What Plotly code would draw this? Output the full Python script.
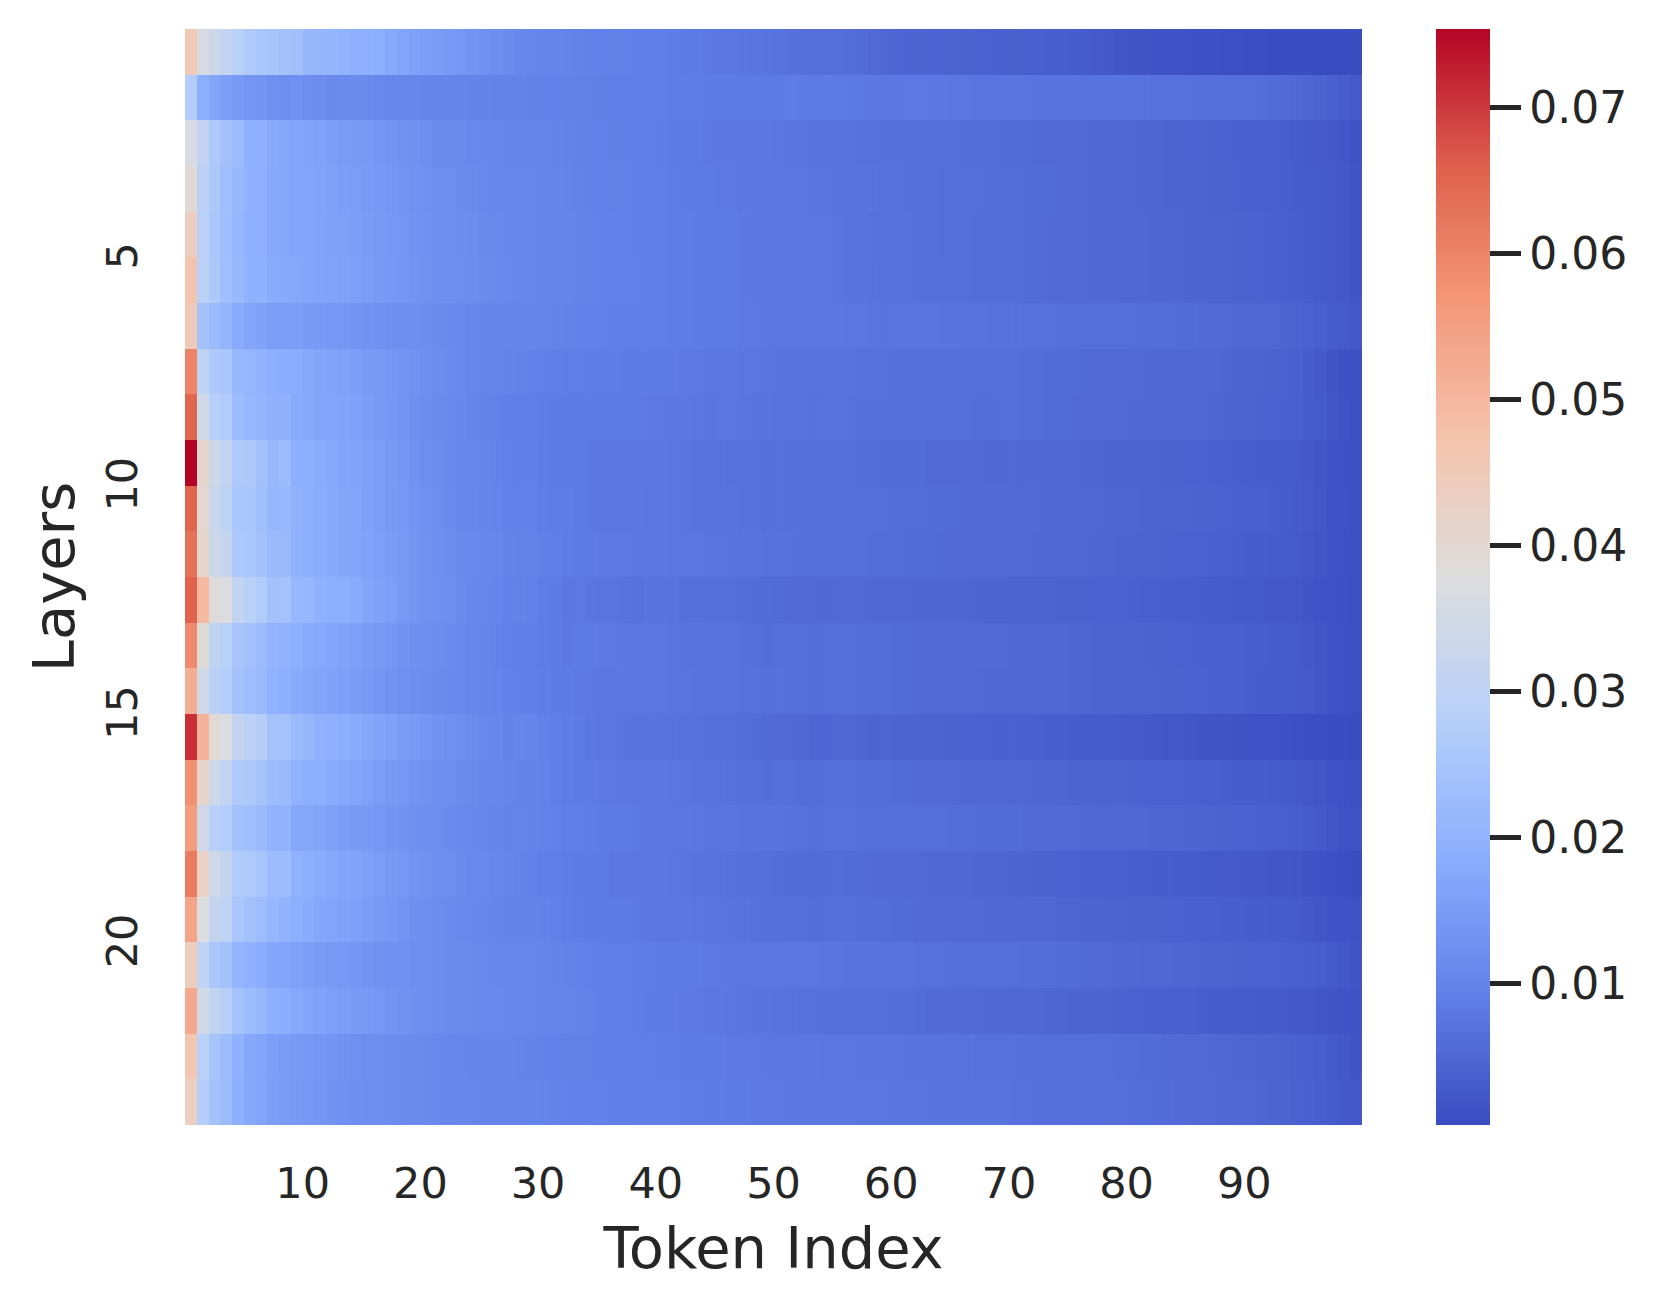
import plotly.graph_objects as go

# Attention values, in units of 0.0001. One list per layer, 100 tokens each.
layer_01 = [453,360,335,310,290,265,255,248,240,238,212,208,204,200,192,192,186,176,168,160,155,150,145,140,135,128,122,116,110,106,104,102,100,98,97,96,95,94,93,92,90,88,86,84,82,80,78,76,74,72,70,68,66,64,63,62,60,58,54,50,48,47,46,45,44,43,42,40,39,38,37,36,36,35,34,32,30,26,24,20,18,17,16,15,14,12,11,10,9,8,7,6,5,5,4,4,3,3,3,3]
layer_02 = [275,190,170,155,145,138,134,125,122,128,122,118,112,114,116,114,110,108,106,105,104,104,102,102,100,100,98,98,98,97,96,96,95,95,94,93,92,92,92,92,90,89,88,88,87,86,86,85,84,84,86,88,86,84,86,84,83,82,80,80,80,82,82,80,78,76,76,74,74,74,74,74,73,73,72,72,72,72,71,70,70,70,68,68,68,67,66,66,64,62,62,60,58,56,52,48,44,38,32,26]
layer_03 = [365,310,265,240,222,198,195,178,172,168,165,160,155,150,148,145,138,134,130,127,120,116,116,114,110,108,105,104,104,104,102,100,98,97,96,94,93,92,91,90,88,86,84,84,82,80,80,78,78,78,76,74,74,72,72,70,70,68,68,66,66,66,66,64,62,62,60,60,60,58,58,58,56,56,56,54,54,52,52,50,50,48,48,46,46,45,44,42,40,38,38,36,36,34,30,28,26,24,22,16]
layer_04 = [395,295,262,235,218,195,192,176,174,170,166,164,160,155,152,148,142,138,134,130,126,120,120,116,114,110,108,106,106,105,104,102,100,98,97,96,95,94,93,92,90,88,86,84,84,82,82,80,80,78,78,76,76,74,74,72,72,70,70,68,68,66,66,66,64,64,62,62,60,60,60,58,58,58,56,54,54,52,52,50,50,48,48,46,46,46,44,42,42,40,38,38,36,34,32,30,28,26,24,18]
layer_05 = [435,290,255,232,210,194,192,176,174,170,168,164,162,158,154,150,144,140,136,132,128,122,122,118,116,112,110,108,106,106,104,102,102,100,98,96,96,94,93,92,90,88,88,86,86,84,84,82,80,78,78,76,76,76,76,74,72,70,68,68,68,68,66,66,64,64,62,60,60,60,60,58,58,56,56,54,54,52,52,50,50,50,48,48,48,46,46,44,44,42,42,40,38,36,34,32,28,26,24,18]
layer_06 = [470,295,262,235,218,196,196,180,178,174,170,166,164,160,156,152,146,142,138,134,130,124,124,120,118,114,112,110,108,106,104,104,102,100,98,96,96,94,94,92,90,88,88,86,86,84,84,82,80,78,78,78,78,76,76,74,72,72,70,68,68,68,66,66,66,64,62,60,60,60,60,58,58,56,56,54,54,52,52,50,50,50,48,48,48,46,46,44,44,42,42,40,38,36,34,32,28,26,24,18]
layer_07 = [450,240,222,205,180,170,162,152,152,152,148,144,140,138,134,132,128,124,122,120,118,116,112,110,106,104,102,102,104,102,102,100,98,96,96,94,92,92,92,90,90,88,88,86,84,84,84,82,82,80,80,78,80,78,78,78,76,76,74,72,74,74,74,74,72,72,70,70,68,68,70,68,68,68,66,66,64,64,64,62,62,60,60,60,58,58,56,56,54,52,52,50,50,46,44,40,36,32,28,24]
layer_08 = [600,300,265,255,215,208,200,190,184,182,176,170,164,160,154,148,144,138,134,130,124,118,114,110,106,104,102,100,98,96,94,92,90,90,88,88,88,86,86,86,86,84,82,82,80,80,78,76,76,74,73,73,73,71,70,70,70,68,68,68,66,66,66,64,64,64,62,62,62,62,62,60,60,58,58,58,56,56,56,56,54,54,52,52,52,52,50,50,48,46,46,44,42,40,38,32,26,18,12,8]
layer_09 = [650,345,285,270,225,215,205,195,198,180,176,170,168,164,160,152,146,140,134,126,118,114,112,108,104,100,96,92,90,90,88,86,84,84,86,86,86,86,84,82,82,80,78,76,74,76,76,74,72,72,71,71,71,69,70,70,68,66,66,66,64,64,64,64,62,62,62,60,60,62,62,60,60,58,58,56,56,56,54,54,52,52,52,52,50,50,50,48,46,44,44,42,40,38,36,32,28,20,14,8]
layer_10 = [754,405,335,310,265,262,240,215,222,190,186,180,176,170,165,158,152,146,138,130,122,118,112,106,106,102,98,94,92,92,88,86,84,84,82,80,80,78,76,76,78,76,74,72,70,70,68,68,68,66,67,65,65,63,66,64,62,60,60,58,58,58,58,56,56,56,56,54,52,52,54,52,52,50,50,50,48,48,46,46,44,44,44,42,42,40,40,38,36,34,34,32,32,30,28,24,20,14,12,8]
layer_11 = [650,400,325,300,255,252,235,212,215,195,188,182,178,172,166,158,152,146,140,134,128,122,114,108,108,104,100,96,94,94,90,88,88,84,82,80,80,78,78,76,78,76,74,72,70,70,70,68,68,66,67,65,65,63,66,64,64,62,62,62,60,60,60,58,58,58,56,56,56,56,56,54,54,52,52,52,50,50,48,48,48,46,46,44,44,44,42,42,40,38,36,36,34,32,30,26,22,16,14,10]
layer_12 = [630,410,335,320,260,255,240,220,220,195,188,182,178,172,168,162,156,150,144,136,130,124,118,112,110,108,106,100,98,98,94,92,88,86,84,82,82,82,80,78,78,76,76,76,74,74,72,70,70,68,69,67,65,63,64,64,62,62,60,60,60,58,58,58,56,56,56,56,56,56,54,54,52,52,50,50,50,48,48,46,46,44,44,42,40,40,40,38,36,34,32,32,30,30,28,24,20,14,12,8]
layer_13 = [655,495,385,370,310,290,270,240,245,215,210,195,190,186,180,170,162,154,146,136,130,126,122,114,110,106,102,96,98,94,88,86,80,82,76,74,74,70,68,72,72,70,66,66,64,64,62,60,58,58,57,55,53,53,52,56,54,54,50,50,50,50,48,48,48,48,48,46,46,46,46,46,44,44,42,42,42,40,40,40,38,36,36,34,34,34,32,30,30,28,28,26,24,24,22,18,16,12,10,8]
layer_14 = [590,390,305,290,250,240,225,205,200,190,180,176,170,164,158,150,144,138,132,126,122,118,114,110,106,102,98,94,92,90,88,86,82,84,84,82,82,80,78,78,76,74,72,70,70,70,70,68,66,64,65,63,63,61,64,62,62,60,60,60,58,58,56,56,56,56,56,56,54,54,52,52,50,50,50,48,48,46,46,46,44,44,42,42,40,40,38,36,36,36,34,34,32,30,28,24,20,14,12,8]
layer_15 = [520,345,290,275,240,230,220,195,190,180,172,166,162,156,150,144,138,132,126,120,118,116,112,110,106,104,100,96,94,92,90,86,84,82,82,80,80,78,78,78,76,74,74,72,70,70,70,68,68,66,67,65,63,61,64,62,62,60,60,60,58,58,56,56,56,56,56,54,52,52,52,52,50,50,50,48,48,46,46,46,44,44,44,42,42,40,40,38,36,36,34,32,32,30,28,26,20,14,12,8]
layer_16 = [710,510,395,370,315,295,280,245,245,220,212,195,192,188,180,172,165,158,150,145,138,132,126,120,116,110,108,100,106,104,96,92,88,84,80,76,76,72,70,72,72,70,68,68,64,64,62,60,58,56,54,53,51,49,49,52,50,48,46,48,46,46,44,44,44,42,40,40,40,38,40,38,36,34,34,32,30,30,30,28,26,26,24,22,22,20,18,18,17,15,14,12,12,11,9,7,6,4,4,3]
layer_17 = [580,415,335,310,265,262,245,225,220,195,190,186,180,174,168,160,152,146,140,135,130,124,120,116,114,108,106,102,100,100,98,92,88,84,84,82,82,80,78,78,78,76,74,72,70,70,68,66,66,64,65,63,61,61,64,62,62,60,60,60,58,58,56,56,56,54,52,52,52,52,50,50,48,48,48,46,46,44,44,44,42,40,40,40,40,38,36,36,34,32,32,32,30,28,26,22,18,14,12,8]
layer_18 = [555,345,285,275,240,235,220,200,200,175,172,166,160,154,148,144,140,136,132,128,124,120,114,110,110,106,104,100,102,100,98,96,92,90,88,86,84,84,82,80,80,78,78,76,74,74,74,72,72,70,71,69,67,65,68,68,68,66,66,66,64,64,64,62,62,60,60,58,58,58,58,56,56,56,54,54,52,52,52,50,50,50,48,48,48,46,46,44,42,40,40,38,36,36,34,30,26,20,16,12]
layer_19 = [615,425,340,320,270,265,250,225,225,195,190,182,176,170,164,158,152,146,140,135,130,124,120,114,110,110,106,102,98,96,92,90,88,86,86,84,80,80,78,78,78,76,74,72,70,70,68,66,64,62,61,59,57,57,59,60,58,58,56,56,56,54,54,52,52,50,50,48,48,48,46,44,42,42,40,40,38,38,38,36,34,34,32,32,30,30,28,26,26,26,24,24,21,20,18,15,12,8,6,5]
layer_20 = [540,375,315,300,255,240,230,210,200,190,180,172,168,162,158,152,146,140,134,126,122,118,114,110,110,106,102,100,100,100,98,94,90,88,86,86,84,84,82,80,80,78,78,76,74,74,72,70,68,66,65,63,63,61,64,62,62,60,60,60,58,58,56,56,56,54,54,54,52,52,52,50,50,50,48,48,46,46,44,44,42,42,42,40,40,38,38,36,34,34,32,32,30,30,28,24,20,16,14,12]
layer_21 = [440,305,255,240,205,195,185,172,166,160,154,150,146,142,138,134,130,128,125,122,120,118,116,114,112,110,108,106,106,105,102,100,98,96,94,92,90,90,88,88,86,86,84,84,82,82,80,80,78,78,78,76,76,76,74,74,72,72,72,70,70,70,68,68,68,66,66,64,64,62,62,60,60,60,58,58,56,56,54,52,52,50,50,50,48,48,46,44,44,42,42,40,40,38,36,34,32,28,24,18]
layer_22 = [530,350,305,285,245,225,215,192,184,176,168,162,156,152,148,144,140,134,130,125,122,118,116,114,112,110,110,108,108,106,104,104,102,100,96,92,90,90,88,86,84,84,82,82,80,78,76,74,72,72,70,70,68,68,66,66,64,64,62,62,60,60,58,56,56,56,54,54,52,52,50,50,50,48,48,46,46,44,44,42,40,40,38,38,36,36,34,32,32,30,30,28,28,26,24,22,20,18,16,12]
layer_23 = [465,290,250,225,195,175,168,156,150,146,142,138,134,130,126,122,120,118,116,114,112,110,108,106,104,102,102,102,100,98,96,96,95,95,94,92,92,92,90,90,88,88,86,86,84,84,82,82,82,80,80,78,78,78,76,76,76,74,74,74,74,72,72,72,70,70,70,68,68,68,68,66,66,64,64,64,62,62,62,60,60,58,58,56,56,54,54,52,50,48,48,46,44,42,38,36,32,28,24,18]
layer_24 = [430,280,245,225,190,175,166,154,150,144,140,136,132,128,124,122,120,118,116,114,112,110,108,106,106,104,104,104,102,102,100,98,96,96,95,94,92,92,90,90,90,90,88,88,86,86,84,84,82,82,82,80,80,80,78,78,78,76,76,76,74,74,74,72,72,72,70,70,70,70,68,68,66,66,66,64,64,64,62,62,60,60,58,58,56,56,54,54,52,50,50,48,46,44,40,38,34,30,26,22]

layers = [layer_01, layer_02, layer_03, layer_04, layer_05, layer_06, layer_07, layer_08,
          layer_09, layer_10, layer_11, layer_12, layer_13, layer_14, layer_15, layer_16,
          layer_17, layer_18, layer_19, layer_20, layer_21, layer_22, layer_23, layer_24]

x_ticks = [10, 20, 30, 40, 50, 60, 70, 80, 90]
y_ticks = [5, 10, 15, 20]
bar_ticks = [0.01, 0.02, 0.03, 0.04, 0.05, 0.06, 0.07]
z_min, z_max = 0.0003, 0.0754

coolwarm = [[0.0, "rgb(59,76,192)"], [0.125, "rgb(98,130,234)"], [0.25, "rgb(141,176,254)"],
            [0.375, "rgb(184,208,249)"], [0.5, "rgb(221,221,221)"], [0.625, "rgb(245,196,173)"],
            [0.75, "rgb(244,152,122)"], [0.875, "rgb(222,96,77)"], [1.0, "rgb(180,4,38)"]]

ink = "#262626"
z = [[v / 10000 for v in row] for row in layers]

fig = go.Figure(go.Heatmap(
    z=z, x0=0.5, dx=1, y0=0.5, dy=1,
    colorscale=coolwarm, zmin=z_min, zmax=z_max, zsmooth=False,
    colorbar=dict(
        thickness=54, thicknessmode="pixels", len=1, lenmode="fraction",
        x=1.0629, xanchor="left", xpad=0, y=0.5, yanchor="middle", ypad=0,
        outlinewidth=0, ticks="outside", ticklen=31, tickwidth=5, tickcolor=ink,
        tickvals=bar_ticks, ticktext=[f"{t:.2f}" for t in bar_ticks],
        tickfont=dict(family="DejaVu Sans", size=44, color=ink),
    ),
))
fig.update_layout(
    width=1660, height=1311, paper_bgcolor="white", plot_bgcolor="white",
    margin=dict(l=185, r=298, t=29, b=186, autoexpand=False),
    font=dict(family="DejaVu Sans", color=ink),
)
fig.update_xaxes(
    range=[0, 100], tickvals=x_ticks, showgrid=False, zeroline=False, ticks="", showline=False,
    ticklabelstandoff=29, tickfont=dict(size=43, color=ink),
    title=dict(text="Token Index", font=dict(size=57.5, color=ink), standoff=20),
)
# Rotated labels sit slightly high in the browser, so their anchors are nudged down the axis.
fig.update_yaxes(
    range=[24, 0], tickvals=[t + 0.11 for t in y_ticks], ticktext=[str(t) for t in y_ticks],
    showgrid=False, zeroline=False, ticks="", showline=False,
    tickangle=-90, ticklabelstandoff=38, tickfont=dict(size=43, color=ink),
    title=dict(text="Layers", font=dict(size=57.5, color=ink), standoff=4),
)
fig.write_html("out.html", config={"displayModeBar": False},
               post_script="document.body.style.margin='0';")
